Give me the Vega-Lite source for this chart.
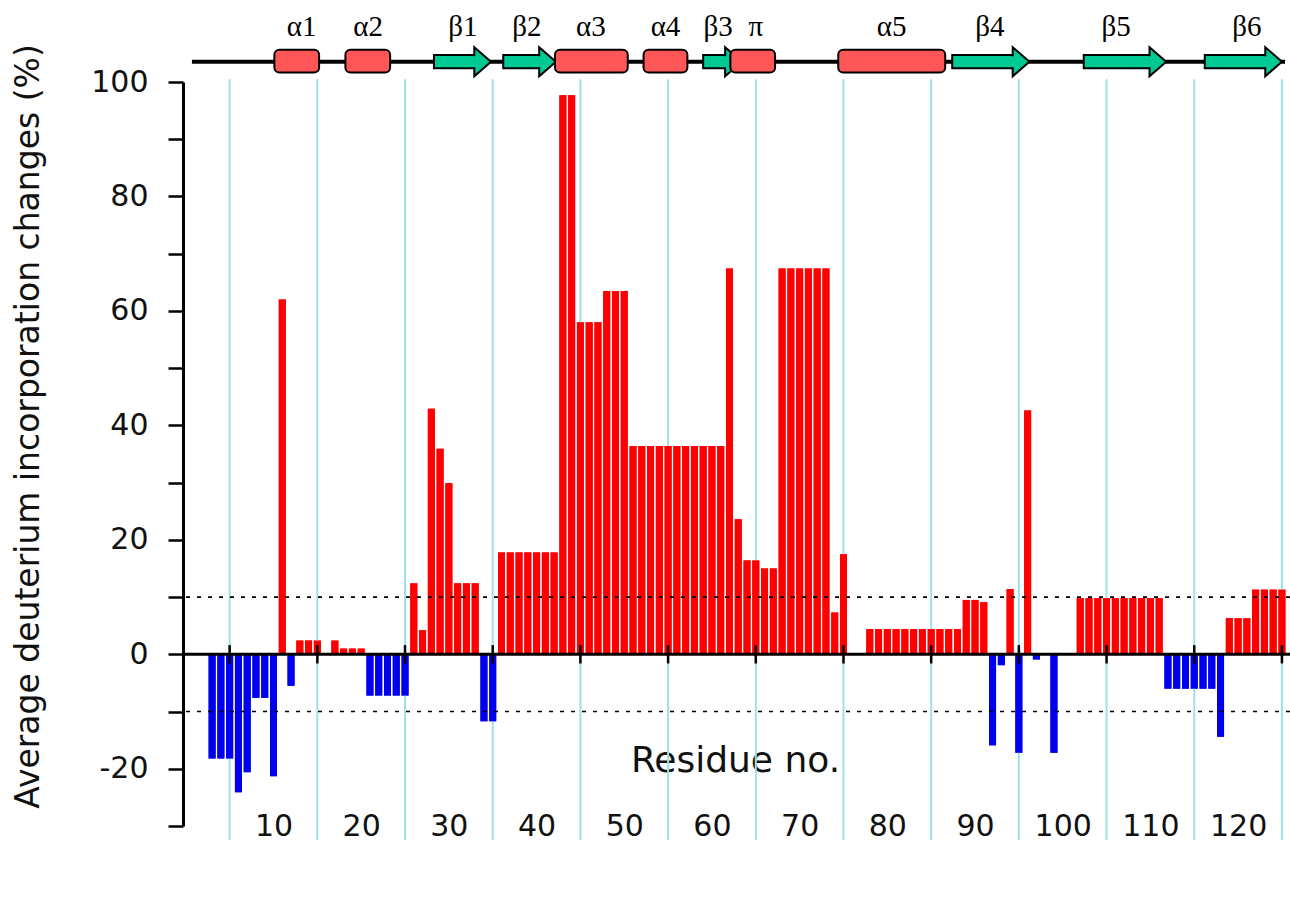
{
  "$schema": "https://vega.github.io/schema/vega-lite/v6.json",
  "width": 1107,
  "height": 744,
  "autosize": {"type": "none"},
  "padding": {"left": 183, "top": 82, "right": 0, "bottom": 73},
  "background": "white",
  "config": {
    "view": {"stroke": null},
    "font": "DejaVu Sans",
    "axisX": {
      "domain": false, "ticks": false, "tickSize": 0, "grid": false,
      "labelFont": "DejaVu Sans", "labelFontSize": 30, "labelColor": "#111",
      "labelPadding": 0, "labelBaseline": "middle", "labelFlush": false, "labelOverlap": false,
      "titleFont": "DejaVu Sans", "titleFontSize": 36, "titleFontWeight": "normal",
      "titleColor": "#111", "titleX": 552, "titleY": -66, "titleAlign": "center", "titleBaseline": "middle"
    },
    "axisY": {
      "domainColor": "black", "domainWidth": 3, "tickColor": "black", "tickWidth": 2.5, "tickSize": 15,
      "labelFont": "DejaVu Sans", "labelFontSize": 30, "labelColor": "#111", "labelPadding": 20,
      "grid": false,
      "titleFont": "DejaVu Sans", "titleFontSize": 33, "titleFontWeight": "normal", "titleColor": "#111",
      "titleAngle": -90, "titleX": -155, "titleY": 344, "titleAlign": "center", "titleBaseline": "middle"
    }
  },
  "datasets": {
    "bars": [
      {"r": 3, "v": -18.2}, {"r": 4, "v": -18.2}, {"r": 5, "v": -18.2}, {"r": 6, "v": -24.1},
      {"r": 7, "v": -20.6}, {"r": 8, "v": -7.6}, {"r": 9, "v": -7.6}, {"r": 10, "v": -21.3},
      {"r": 11, "v": 62}, {"r": 12, "v": -5.5}, {"r": 13, "v": 2.4}, {"r": 14, "v": 2.4},
      {"r": 15, "v": 2.4}, {"r": 17, "v": 2.4}, {"r": 18, "v": 1.0}, {"r": 19, "v": 1.0},
      {"r": 20, "v": 1.0}, {"r": 21, "v": -7.2}, {"r": 22, "v": -7.2}, {"r": 23, "v": -7.2},
      {"r": 24, "v": -7.2}, {"r": 25, "v": -7.2}, {"r": 26, "v": 12.4}, {"r": 27, "v": 4.2},
      {"r": 28, "v": 42.9}, {"r": 29, "v": 35.9}, {"r": 30, "v": 29.9}, {"r": 31, "v": 12.4},
      {"r": 32, "v": 12.4}, {"r": 33, "v": 12.4}, {"r": 34, "v": -11.7}, {"r": 35, "v": -11.7},
      {"r": 36, "v": 17.8}, {"r": 37, "v": 17.8}, {"r": 38, "v": 17.8}, {"r": 39, "v": 17.8},
      {"r": 40, "v": 17.8}, {"r": 41, "v": 17.8}, {"r": 42, "v": 17.8}, {"r": 43, "v": 97.7},
      {"r": 44, "v": 97.7}, {"r": 45, "v": 58}, {"r": 46, "v": 58}, {"r": 47, "v": 58},
      {"r": 48, "v": 63.5}, {"r": 49, "v": 63.5}, {"r": 50, "v": 63.5}, {"r": 51, "v": 36.4},
      {"r": 52, "v": 36.4}, {"r": 53, "v": 36.4}, {"r": 54, "v": 36.4}, {"r": 55, "v": 36.4},
      {"r": 56, "v": 36.4}, {"r": 57, "v": 36.4}, {"r": 58, "v": 36.4}, {"r": 59, "v": 36.4},
      {"r": 60, "v": 36.4}, {"r": 61, "v": 36.4}, {"r": 62, "v": 67.4}, {"r": 63, "v": 23.6},
      {"r": 64, "v": 16.4}, {"r": 65, "v": 16.4}, {"r": 66, "v": 15.0}, {"r": 67, "v": 15.0},
      {"r": 68, "v": 67.4}, {"r": 69, "v": 67.4}, {"r": 70, "v": 67.4}, {"r": 71, "v": 67.4},
      {"r": 72, "v": 67.4}, {"r": 73, "v": 67.4}, {"r": 74, "v": 7.3}, {"r": 75, "v": 17.5},
      {"r": 78, "v": 4.4}, {"r": 79, "v": 4.4}, {"r": 80, "v": 4.4}, {"r": 81, "v": 4.4},
      {"r": 82, "v": 4.4}, {"r": 83, "v": 4.4}, {"r": 84, "v": 4.4}, {"r": 85, "v": 4.4},
      {"r": 86, "v": 4.4}, {"r": 87, "v": 4.4}, {"r": 88, "v": 4.4}, {"r": 89, "v": 9.5},
      {"r": 90, "v": 9.5}, {"r": 91, "v": 9.1}, {"r": 92, "v": -15.9}, {"r": 93, "v": -1.9},
      {"r": 94, "v": 11.4}, {"r": 95, "v": -17.2}, {"r": 96, "v": 42.6}, {"r": 97, "v": -0.9},
      {"r": 99, "v": -17.2}, {"r": 102, "v": 9.8}, {"r": 103, "v": 9.8}, {"r": 104, "v": 9.8},
      {"r": 105, "v": 9.8}, {"r": 106, "v": 9.8}, {"r": 107, "v": 9.8}, {"r": 108, "v": 9.8},
      {"r": 109, "v": 9.8}, {"r": 110, "v": 9.8}, {"r": 111, "v": 9.8}, {"r": 112, "v": -6.0},
      {"r": 113, "v": -6.0}, {"r": 114, "v": -6.0}, {"r": 115, "v": -6.0}, {"r": 116, "v": -6.0},
      {"r": 117, "v": -6.0}, {"r": 118, "v": -14.4}, {"r": 119, "v": 6.3}, {"r": 120, "v": 6.3},
      {"r": 121, "v": 6.3}, {"r": 122, "v": 11.3}, {"r": 123, "v": 11.3}, {"r": 124, "v": 11.3},
      {"r": 125, "v": 11.3}
    ],
    "grid": [
      {"p": 5}, {"p": 15}, {"p": 25}, {"p": 35}, {"p": 45}, {"p": 55}, {"p": 65},
      {"p": 75}, {"p": 85}, {"p": 95}, {"p": 105}, {"p": 115}, {"p": 125}
    ],
    "thresholds": [{"t": 10}, {"t": -10}],
    "one": [{}],
    "helix": [
      {"name": "α1", "s": 10.1, "e": 15.2}, {"name": "α2", "s": 18.2, "e": 23.3},
      {"name": "α3", "s": 42.1, "e": 50.4}, {"name": "α4", "s": 52.2, "e": 57.2},
      {"name": "π", "s": 62.1, "e": 67.2}, {"name": "α5", "s": 74.4, "e": 86.6}
    ],
    "strand": [
      {"name": "β1", "s": 28.3, "e": 32.9}, {"name": "β2", "s": 36.2, "e": 40.3},
      {"name": "β3", "s": 59.0, "e": 61.5}, {"name": "β4", "s": 87.4, "e": 94.3},
      {"name": "β5", "s": 102.4, "e": 109.9}, {"name": "β6", "s": 116.2, "e": 123.1}
    ],
    "labels": [
      {"t": "α1", "p": 13.2}, {"t": "α2", "p": 20.8}, {"t": "β1", "p": 31.6},
      {"t": "β2", "p": 38.9}, {"t": "α3", "p": 46.2}, {"t": "α4", "p": 54.7},
      {"t": "β3", "p": 60.7}, {"t": "π", "p": 65.0}, {"t": "α5", "p": 80.5},
      {"t": "β4", "p": 91.7}, {"t": "β5", "p": 106.1}, {"t": "β6", "p": 121.0}
    ]
  },
  "layer": [
    {
      "data": {"name": "bars"},
      "mark": {"type": "bar", "width": 7},
      "encoding": {
        "x": {
          "field": "r", "type": "quantitative",
          "scale": {"domain": [0.25, 125.35], "nice": false, "zero": false},
          "axis": {
            "orient": "bottom",
            "values": [10, 20, 30, 40, 50, 60, 70, 80, 90, 100, 110, 120],
            "title": "Residue no."
          }
        },
        "y": {
          "field": "v", "type": "quantitative",
          "scale": {"domain": [-30, 100], "nice": false, "zero": false},
          "axis": {
            "orient": "left",
            "values": [-30, -20, -10, 0, 10, 20, 30, 40, 50, 60, 70, 80, 90, 100],
            "labelExpr": "datum.value % 20 === 0 ? '' + datum.value : ''",
            "title": "Average deuterium incorporation changes (%)"
          }
        },
        "color": {"condition": {"test": "datum.v > 0", "value": "#ff0000"}, "value": "#0000ee"}
      }
    },
    {
      "data": {"name": "grid"},
      "mark": {"type": "rule", "color": "#9be3e6", "strokeWidth": 2},
      "encoding": {
        "x": {"field": "p", "type": "quantitative"},
        "y": {"datum": -32.5, "type": "quantitative"},
        "y2": {"datum": 100.5}
      }
    },
    {
      "data": {"name": "bars"},
      "mark": {"type": "bar", "width": 7},
      "encoding": {
        "x": {"field": "r", "type": "quantitative"},
        "y": {"field": "v", "type": "quantitative"},
        "color": {"condition": {"test": "datum.v > 0", "value": "#ff0000"}, "value": "#0000ee"}
      }
    },
    {
      "data": {"name": "thresholds"},
      "mark": {"type": "rule", "color": "black", "strokeWidth": 1.6, "strokeDash": [4, 7]},
      "encoding": {
        "y": {"field": "t", "type": "quantitative"}
      }
    },
    {
      "data": {"name": "one"},
      "mark": {"type": "rule", "color": "black", "strokeWidth": 3},
      "encoding": {
        "y": {"datum": 0, "type": "quantitative"}
      }
    },
    {
      "data": {"name": "grid"},
      "mark": {"type": "rule", "color": "black", "strokeWidth": 2.5},
      "encoding": {
        "x": {"field": "p", "type": "quantitative"},
        "y": {"datum": -1.6, "type": "quantitative"},
        "y2": {"datum": 1.6}
      }
    },
    {
      "data": {"name": "one"},
      "mark": {"type": "rule", "color": "black", "strokeWidth": 4},
      "encoding": {
        "x": {"datum": 0.7, "type": "quantitative"},
        "x2": {"datum": 125.35},
        "y": {"datum": 103.55, "type": "quantitative"}
      }
    },
    {
      "data": {"name": "strand"},
      "mark": {"type": "rect", "fill": "#00c994", "stroke": "black", "strokeWidth": 2},
      "encoding": {
        "x": {"field": "s", "type": "quantitative"},
        "x2": {"field": "e"},
        "y": {"datum": 102.4, "type": "quantitative"},
        "y2": {"datum": 104.7}
      }
    },
    {
      "data": {"name": "strand"},
      "mark": {"type": "point", "shape": "M 0 -1 L 1.15 0 L 0 1 Z", "size": 841, "filled": true, "fill": "#00c994", "stroke": "black", "strokeWidth": 2, "opacity": 1},
      "encoding": {
        "x": {"field": "e", "type": "quantitative"},
        "y": {"datum": 103.55, "type": "quantitative"}
      }
    },
    {
      "data": {"name": "strand"},
      "mark": {"type": "rect", "fill": "#00c994", "xOffset": -2.5, "x2Offset": 3},
      "encoding": {
        "x": {"field": "e", "type": "quantitative"},
        "x2": {"field": "e"},
        "y": {"datum": 102.6, "type": "quantitative"},
        "y2": {"datum": 104.5}
      }
    },
    {
      "data": {"name": "helix"},
      "mark": {"type": "rect", "fill": "#ff5757", "stroke": "black", "strokeWidth": 2, "cornerRadius": 5},
      "encoding": {
        "x": {"field": "s", "type": "quantitative"},
        "x2": {"field": "e"},
        "y": {"datum": 101.65, "type": "quantitative"},
        "y2": {"datum": 105.65}
      }
    },
    {
      "data": {"name": "labels"},
      "mark": {"type": "text", "font": "Liberation Serif", "fontSize": 29, "color": "black", "baseline": "middle", "align": "center"},
      "encoding": {
        "x": {"field": "p", "type": "quantitative"},
        "y": {"datum": 109.6, "type": "quantitative"},
        "text": {"field": "t"}
      }
    }
  ]
}
